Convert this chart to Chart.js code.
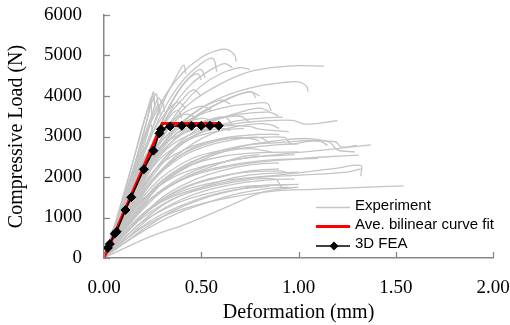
<!DOCTYPE html>
<html>
<head>
<meta charset="utf-8">
<script src="https://cdn.jsdelivr.net/npm/chart.js@4.4.0/dist/chart.umd.min.js"></script>
<style>
  html, body { margin: 0; padding: 0; background: #fff; }
</style>
</head>
<body>
<canvas id="chart" width="510" height="325"></canvas>
<script>
// axis ticks
const xTicks = [0, 0.5, 1.0, 1.5, 2.0];
const yTicks = [0, 1000, 2000, 3000, 4000, 5000, 6000];

// ave. bilinear curve fit
const fitDeformation = [0, 0.30, 0.60];
const fitLoad = [0, 3320, 3320];

// 3D FEA
const feaDeformation = [0.02, 0.03, 0.055, 0.065, 0.11, 0.14, 0.205, 0.254, 0.285, 0.293, 0.34, 0.40, 0.45, 0.50, 0.545, 0.59];
const feaLoad = [250, 345, 600, 650, 1185, 1500, 2190, 2650, 3080, 3180, 3250, 3265, 3265, 3265, 3265, 3265];

// experiment curves, [deformation mm, load N]
const experimentCurves = [
  [[0,0],[0.05,700],[0.1,1500],[0.15,2400],[0.2,3300],[0.24,3900],[0.255,4100],[0.26,3700]],
  [[0,0],[0.06,800],[0.12,1700],[0.18,2700],[0.22,3400],[0.25,3900],[0.27,4050],[0.28,3600]],
  [[0,0],[0.07,900],[0.14,1900],[0.2,2800],[0.25,3500],[0.28,3800],[0.29,3500]],
  [[0,0],[0.08,900],[0.16,1900],[0.22,2800],[0.27,3500],[0.3,3900],[0.31,3600]],
  [[0,0],[0.06,700],[0.12,1500],[0.18,2400],[0.22,3000],[0.24,3300],[0.25,3100]],
  [[0,0],[0.05,600],[0.1,1300],[0.16,2300],[0.2,3000],[0.23,3600],[0.24,3950],[0.245,3500]],
  [[0,0],[0.05,700],[0.1,1450],[0.15,2200],[0.2,2900],[0.3,3900],[0.4,4550],[0.5,4950],[0.58,5120],[0.63,5150],[0.67,5020],[0.68,4850]],
  [[0,0],[0.06,700],[0.12,1500],[0.2,2500],[0.3,3600],[0.4,4350],[0.5,4800],[0.56,4930],[0.58,4600]],
  [[0,0],[0.08,1000],[0.16,2100],[0.25,3200],[0.32,4000],[0.38,4550],[0.41,4760],[0.42,4550]],
  [[0,0],[0.08,900],[0.16,1800],[0.25,2800],[0.35,3700],[0.45,4300],[0.55,4650],[0.62,4800],[0.66,4700]],
  [[0,0],[0.08,850],[0.16,1750],[0.25,2600],[0.35,3350],[0.45,3850],[0.6,4300],[0.75,4600],[0.9,4720],[1.0,4750],[1.13,4740]],
  [[0,0],[0.08,800],[0.16,1650],[0.25,2450],[0.35,3100],[0.5,3700],[0.65,4050],[0.8,4250],[0.92,4330],[1.0,4350],[1.04,4250],[1.05,4100]],
  [[0,0],[0.07,800],[0.15,1700],[0.25,2600],[0.35,3150],[0.5,3550],[0.65,3750],[0.78,3820],[0.84,3820],[0.86,3630]],
  [[0,0],[0.08,800],[0.16,1600],[0.25,2300],[0.35,2800],[0.5,3150],[0.65,3300],[0.8,3380],[0.97,3400],[1.02,3320],[1.08,3310],[1.14,3350],[1.2,3390]],
  [[0,0],[0.06,650],[0.14,1500],[0.22,2300],[0.3,2800],[0.45,3150],[0.6,3260],[0.75,3250],[0.8,3180],[0.95,3120]],
  [[0,0],[0.1,950],[0.2,1800],[0.3,2350],[0.45,2750],[0.6,2930],[0.75,2960],[0.93,2980],[0.96,2820],[1.05,2880],[1.19,2870],[1.22,2740],[1.3,2780]],
  [[0,0],[0.1,800],[0.2,1450],[0.35,1980],[0.5,2250],[0.7,2450],[0.9,2560],[1.1,2650],[1.25,2730],[1.37,2790]],
  [[0,0],[0.1,700],[0.2,1300],[0.35,1800],[0.5,2100],[0.75,2340],[1.0,2450],[1.15,2500],[1.31,2540]],
  [[0,0],[0.1,600],[0.25,1250],[0.4,1600],[0.6,1850],[0.8,2000],[1.0,2100],[1.2,2220],[1.32,2280],[1.32,2020]],
  [[0,0],[0.1,420],[0.25,900],[0.4,1200],[0.6,1450],[0.85,1640],[1.1,1700],[1.3,1740],[1.54,1780]],
  [[0,0],[0.1,230],[0.25,550],[0.4,800],[0.51,1010],[0.65,1300],[0.8,1600],[0.9,1700],[1.0,1750]],
  [[0,0],[0.1,1100],[0.2,2000],[0.3,2650],[0.45,3200],[0.6,3450],[0.7,3500],[0.75,3350]],
  [[0,0],[0.1,1000],[0.2,1900],[0.3,2500],[0.45,2950],[0.6,3150],[0.72,3200]],
  [[0,0],[0.1,900],[0.2,1650],[0.3,2200],[0.45,2700],[0.6,2950],[0.8,3050],[0.9,3050]],
  [[0,0],[0.1,800],[0.2,1500],[0.3,2000],[0.45,2450],[0.6,2650],[0.75,2700],[0.86,2620]],
  [[0,0],[0.1,750],[0.2,1400],[0.3,1900],[0.45,2300],[0.6,2500],[0.8,2600],[1.0,2620]],
  [[0,0],[0.1,650],[0.2,1200],[0.3,1650],[0.45,2050],[0.6,2250],[0.8,2400],[1.0,2450],[1.1,2460]],
  [[0,0],[0.1,600],[0.2,1100],[0.35,1600],[0.5,1900],[0.7,2100],[0.9,2150],[0.95,2100]],
  [[0,0],[0.1,550],[0.2,1000],[0.35,1450],[0.5,1700],[0.7,1900],[0.88,1950],[0.915,1710]],
  [[0,0],[0.1,480],[0.2,900],[0.35,1300],[0.5,1550],[0.7,1750],[0.9,1800],[1.0,1820]],
  [[0,0],[0.1,420],[0.25,950],[0.4,1300],[0.55,1550],[0.7,1700],[0.85,1770]],
  [[0,0],[0.1,350],[0.25,800],[0.4,1150],[0.55,1400],[0.7,1600],[0.85,1720],[0.95,1750]],
  [[0,0],[0.1,1200],[0.2,2200],[0.3,2900],[0.4,3300],[0.5,3450],[0.55,3400]],
  [[0,0],[0.1,1300],[0.2,2400],[0.3,3150],[0.4,3550],[0.5,3750],[0.55,3650]],
  [[0,0],[0.08,1150],[0.16,2200],[0.25,3100],[0.32,3600],[0.38,3850],[0.42,3700]],
  [[0,0],[0.1,1150],[0.2,2100],[0.3,2750],[0.4,3150],[0.55,3400],[0.7,3550],[0.85,3600],[0.9,3500]],
  [[0,0],[0.12,1250],[0.25,2400],[0.35,3050],[0.5,3600],[0.65,3950],[0.75,4100],[0.8,4000]],
  [[0,0],[0.1,1000],[0.2,1950],[0.3,2700],[0.45,3400],[0.6,3850],[0.7,4050],[0.76,4100],[0.78,3950]],
  [[0,0],[0.1,900],[0.2,1700],[0.35,2600],[0.5,3100],[0.65,3350],[0.8,3450],[0.92,3480]],
  [[0,0],[0.1,700],[0.2,1350],[0.3,1850],[0.45,2300],[0.6,2600],[0.75,2800],[0.9,2900],[1.05,2950],[1.16,2860],[1.2,2670],[1.29,2620]],
  [[0,0],[0.12,650],[0.25,1250],[0.4,1650],[0.6,1900],[0.8,2000],[1.03,2050],[1.25,2120],[1.32,2200]],
  [[0,0],[0.12,800],[0.25,1500],[0.4,1950],[0.55,2250],[0.7,2490],[0.8,2550]],
  [[0,0],[0.1,1050],[0.2,2050],[0.28,2800],[0.35,3300],[0.42,3550],[0.48,3450]],
  [[0,0],[0.09,1000],[0.18,2000],[0.26,2900],[0.33,3500],[0.4,3900],[0.46,4150],[0.5,4000]],
  [[0,0],[0.1,950],[0.2,1850],[0.3,2600],[0.4,3100],[0.5,3350],[0.62,3480],[0.66,3300]],
  [[0,0],[0.1,850],[0.2,1600],[0.3,2150],[0.4,2550],[0.55,2850],[0.7,2980],[0.8,2900]],
  [[0,0],[0.1,550],[0.2,1050],[0.3,1450],[0.45,1800],[0.6,2000],[0.75,2150],[0.9,2200]],
  [[0,0],[0.1,900],[0.2,1750],[0.3,2400],[0.4,2850],[0.5,3100],[0.6,3200],[0.65,3150]],
  [[0,0],[0.12,1000],[0.25,1900],[0.4,2500],[0.55,2800],[0.7,2950],[0.8,2980],[0.85,2850]],
  [[0,0],[0.1,750],[0.25,1700],[0.4,2250],[0.55,2550],[0.7,2700],[0.9,2800],[1.0,2820]],
  [[0,0],[0.1,650],[0.25,1500],[0.4,2000],[0.55,2300],[0.7,2450],[0.85,2520],[0.98,2550]],
  [[0,0],[0.15,800],[0.3,1500],[0.45,1900],[0.6,2150],[0.75,2300],[0.9,2350]],
  [[0,0],[0.15,700],[0.3,1300],[0.45,1650],[0.6,1900],[0.75,2050],[0.9,2100],[1.0,2120]],
  [[0,0],[0.1,1250],[0.2,2350],[0.28,3100],[0.34,3500],[0.38,3650],[0.4,3450]],
  [[0,0],[0.07,1000],[0.14,2000],[0.2,2900],[0.25,3600],[0.28,3950],[0.3,3800]],
  [[0,0],[0.06,900],[0.12,1900],[0.18,2900],[0.22,3600],[0.25,4000],[0.26,3850]],
  [[0,0],[0.1,1050],[0.2,2000],[0.3,2800],[0.4,3350],[0.5,3700],[0.6,3900],[0.65,3800]],
  [[0,0],[0.15,1200],[0.3,2200],[0.45,2800],[0.6,3150],[0.75,3300],[0.85,3300],[0.9,3200]],
  [[0,0],[0.12,1100],[0.25,2100],[0.4,2900],[0.55,3350],[0.7,3600],[0.8,3700],[0.85,3620]],
  [[0,0],[0.15,1000],[0.3,1850],[0.45,2350],[0.6,2650],[0.75,2800],[0.9,2850],[1.1,2900],[1.15,2780]],
  [[0,0],[0.12,500],[0.25,1050],[0.4,1450],[0.55,1700],[0.7,1850],[0.85,1930],[0.98,1950]],
  [[0,0],[0.2,700],[0.35,1150],[0.5,1450],[0.65,1650],[0.8,1780],[0.95,1820]],
  [[0,0],[0.08,850],[0.16,1800],[0.25,2850],[0.33,3700],[0.4,4250],[0.47,4600],[0.5,4650],[0.52,4450]],
  [[0,0],[0.09,950],[0.18,2000],[0.27,3050],[0.35,3850],[0.42,4350],[0.48,4550],[0.5,4400]],
  [[0,0],[0.1,1000],[0.2,2050],[0.3,3000],[0.4,3750],[0.5,4250],[0.6,4550],[0.7,4700],[0.75,4650]]
];

const expColor = '#c4c4c4';
const axisColor = '#878787';
const serif = "'Liberation Serif', 'Times New Roman', serif";

const datasets = [];
datasets.push({
  label: '3D FEA',
  data: feaDeformation.map((x, i) => ({ x: x, y: feaLoad[i] })),
  showLine: true,
  borderColor: '#000',
  borderWidth: 1.5,
  pointStyle: 'rectRot',
  pointRadius: 4.5,
  pointBackgroundColor: '#000',
  pointBorderColor: '#000',
  pointBorderWidth: 1
});
datasets.push({
  label: 'Ave. bilinear curve fit',
  data: fitDeformation.map((x, i) => ({ x: x, y: fitLoad[i] })),
  showLine: true,
  borderColor: '#ff0000',
  borderWidth: 3,
  pointRadius: 0
});
experimentCurves.forEach((curve, idx) => {
  datasets.push({
    label: 'Experiment',
    data: curve.map(p => ({ x: p[0], y: p[1] })),
    showLine: true,
    borderColor: expColor,
    borderWidth: 1.3,
    tension: 0.35,
    pointRadius: 0
  });
});

// inward tick marks + legend drawn in the plot
const extrasPlugin = {
  id: 'extras',
  afterDraw(chart) {
    const { ctx, chartArea, scales } = chart;
    ctx.save();
    ctx.strokeStyle = axisColor;
    ctx.lineWidth = 1.3;
    xTicks.forEach(v => {
      const px = Math.round(scales.x.getPixelForValue(v)) + 0.5;
      ctx.beginPath();
      ctx.moveTo(px, chartArea.bottom);
      ctx.lineTo(px, chartArea.bottom - 6);
      ctx.stroke();
    });
    yTicks.forEach(v => {
      const py = Math.round(scales.y.getPixelForValue(v)) + 0.5;
      ctx.beginPath();
      ctx.moveTo(chartArea.left, py);
      ctx.lineTo(chartArea.left + 6, py);
      ctx.stroke();
    });

    // legend
    const lx0 = 316, lx1 = 350, tx = 355;
    ctx.font = "15px 'Liberation Sans', Arial, sans-serif";
    ctx.fillStyle = '#000';
    ctx.textBaseline = 'alphabetic';

    ctx.strokeStyle = expColor; ctx.lineWidth = 1.3;
    ctx.beginPath(); ctx.moveTo(lx0, 207.5); ctx.lineTo(lx1, 207.5); ctx.stroke();
    ctx.fillText('Experiment', tx, 210);

    ctx.strokeStyle = '#ff0000'; ctx.lineWidth = 3;
    ctx.beginPath(); ctx.moveTo(lx0, 226.5); ctx.lineTo(lx1, 226.5); ctx.stroke();
    ctx.fillText('Ave. bilinear curve fit', tx, 228.5);

    ctx.strokeStyle = '#000'; ctx.lineWidth = 1.5;
    ctx.beginPath(); ctx.moveTo(lx0, 246); ctx.lineTo(lx1, 246); ctx.stroke();
    ctx.beginPath();
    ctx.moveTo(334, 241.5); ctx.lineTo(338.5, 246); ctx.lineTo(334, 250.5); ctx.lineTo(329.5, 246);
    ctx.closePath(); ctx.fillStyle = '#000'; ctx.fill();
    ctx.fillText('3D FEA', tx, 247.5);
    ctx.restore();
  }
};

new Chart(document.getElementById('chart'), {
  type: 'scatter',
  data: { datasets: datasets },
  options: {
    responsive: false,
    animation: false,
    devicePixelRatio: 1,
    layout: { padding: { top: 15, right: 17, left: 0, bottom: 0 } },
    plugins: {
      legend: { display: false },
      tooltip: { enabled: false }
    },
    scales: {
      x: {
        type: 'linear',
        min: 0,
        max: 2,
        afterFit: s => { s.height = 67; s.paddingLeft = 0; s.paddingRight = 0; },
        afterBuildTicks: s => { s.ticks = xTicks.map(v => ({ value: v })); },
        ticks: {
          color: '#000',
          padding: 19,
          font: { family: serif, size: 19 },
          callback: v => v.toFixed(2)
        },
        grid: { drawOnChartArea: false, drawTicks: false },
        border: { color: axisColor, width: 1.5 },
        title: {
          display: true,
          text: 'Deformation (mm)',
          color: '#000',
          font: { family: serif, size: 20 },
          padding: { top: 0, bottom: 0 }
        }
      },
      y: {
        type: 'linear',
        min: 0,
        max: 6000,
        afterFit: s => { s.width = 104; s.paddingTop = 0; s.paddingBottom = 0; },
        afterBuildTicks: s => { s.ticks = yTicks.map(v => ({ value: v })); },
        ticks: {
          color: '#000',
          padding: 22,
          font: { family: serif, size: 19 },
          callback: v => String(v)
        },
        grid: { drawOnChartArea: false, drawTicks: false },
        border: { color: axisColor, width: 1.5 },
        title: {
          display: true,
          text: 'Compressive Load (N)',
          color: '#000',
          font: { family: serif, size: 20 },
          padding: { top: 5, bottom: 0 }
        }
      }
    }
  },
  plugins: [extrasPlugin]
});
</script>
</body>
</html>
